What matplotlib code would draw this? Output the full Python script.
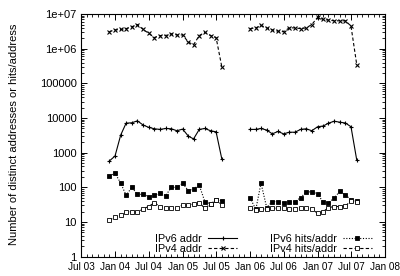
import matplotlib
matplotlib.use("Agg")
import matplotlib.pyplot as plt
import matplotlib.dates as mdates
import pandas as pd
from matplotlib.ticker import LogLocator, NullFormatter

plt.rcParams['font.family'] = ['Liberation Sans', 'DejaVu Sans']

# Monthly samples, two measurement periods
months1 = pd.date_range('2003-12-01', periods=21, freq='MS')
months2 = pd.date_range('2006-01-01', periods=20, freq='MS')

ipv6_addr_1 = [575, 800, 3250, 7100, 7300, 8300, 6300, 5400, 4900, 4700, 5000,
               4900, 4300, 4800, 3000, 2500, 4700, 5000, 4300, 4000, 660]
ipv6_addr_2 = [4700, 4700, 5000, 4500, 3500, 4100, 3500, 3900, 3900, 4700,
               4900, 4300, 5600, 5900, 7100, 8100, 7600, 7200, 5600, 620]

ipv4_addr_1 = [3.1e6, 3.5e6, 3.6e6, 3.8e6, 4.3e6, 5.0e6, 3.6e6, 2.8e6, 2.1e6, 2.4e6,
               2.4e6, 2.7e6, 2.5e6, 2.5e6, 1.55e6, 1.3e6, 2.4e6, 2.95e6, 2.4e6, 2.1e6, 3.0e5]
ipv4_addr_2 = [3.8e6, 4.0e6, 4.7e6, 4.0e6, 3.5e6, 3.2e6, 3.1e6, 4.0e6, 4.0e6, 3.8e6,
               4.0e6, 5.0e6, 8.0e6, 7.0e6, 6.7e6, 6.4e6, 6.4e6, 6.4e6, 4.5e6, 3.5e5]

ipv6_hits_1 = [213, 257, 132, 59, 100, 63, 63, 54, 59, 68, 58, 100, 100, 132, 80,
               91, 115, 39, 33, 44, 41]
ipv6_hits_2 = [50, 23, 132, 26, 39, 39, 36, 37, 39, 50, 74, 74, 65, 37, 36, 49,
               77, 60, 44, 41]

ipv4_hits_1 = [11.4, 13.7, 16, 19, 20, 19, 24, 28, 36, 28, 26, 25, 25, 31, 31, 33,
               36, 25, 33, 42, 32]
ipv4_hits_2 = [25, 22.5, 23.5, 24, 25, 25, 26, 23.5, 24.5, 26, 25.5, 24.5, 17.7,
               20, 26, 28, 28, 29, 41, 39]

labels = ['IPv6 addr', 'IPv4 addr', 'IPv6 hits/addr', 'IPv4 hits/addr']
ylabel = 'Number of distinct addresses or hits/address'
ytick_labels = ['1', '10', '100', '1000', '10000', '100000', '1e+06', '1e+07']

fig = plt.figure(figsize=(4.0, 2.76), dpi=100)
ax = fig.add_axes([0.2025, 0.070, 0.76, 0.879])

styles = [
    dict(ls='-', marker='+', ms=3.5, mew=0.8, lw=0.8),
    dict(ls=(0, (3, 2)), marker='x', ms=3, mew=0.8, lw=0.8),
    dict(ls=(0, (1, 1.5)), marker='s', ms=2.5, mew=0.6, lw=0.8, mfc='black'),
    dict(ls=(0, (3, 2)), marker='s', ms=3, mew=0.6, lw=0.8, mfc='white'),
]
series = [(ipv6_addr_1, ipv6_addr_2), (ipv4_addr_1, ipv4_addr_2),
          (ipv6_hits_1, ipv6_hits_2), (ipv4_hits_1, ipv4_hits_2)]

handles = []
for (s1, s2), st, lab in zip(series, styles, labels):
    h, = ax.plot(months1, s1, color='black', label=lab, **st)
    ax.plot(months2, s2, color='black', **st)
    handles.append(h)

ax.set_yscale('log')
ax.set_ylim(1, 1e7)
ax.set_xlim(pd.Timestamp('2003-07-01'), pd.Timestamp('2008-01-01'))
ax.set_yticks([10**k for k in range(len(ytick_labels))])
ax.set_yticklabels(ytick_labels)
ax.yaxis.set_minor_locator(LogLocator(base=10, subs=[2, 3, 4, 5, 6, 7, 8, 9], numticks=10))
ax.yaxis.set_minor_formatter(NullFormatter())

ax.xaxis.set_major_locator(mdates.MonthLocator(bymonth=[1, 7]))
ax.xaxis.set_minor_locator(mdates.MonthLocator())
ax.xaxis.set_major_formatter(mdates.DateFormatter('%b %y'))

ax.tick_params(which='both', direction='in', top=True, right=True)
ax.tick_params(axis='y', pad=3, labelsize=8)
ax.tick_params(axis='x', pad=3.5, labelsize=7.2)
ax.tick_params(which='major', length=4, width=0.7)
ax.tick_params(which='minor', length=2, width=0.6)
for sp in ax.spines.values():
    sp.set_linewidth(0.8)

ax.set_ylabel(ylabel, fontsize=8)
ax.yaxis.set_label_coords(-0.205, 0.505)

leg = ax.legend(handles=handles, labels=labels,
                ncol=2, loc='lower right', bbox_to_anchor=(0.957, 0.012),
                borderaxespad=0, borderpad=0,
                frameon=False, markerfirst=False, fontsize=7.8,
                handlelength=2.7, handletextpad=0.55, columnspacing=3.0,
                labelspacing=0.0)

fig.savefig('out.png', dpi=100)
